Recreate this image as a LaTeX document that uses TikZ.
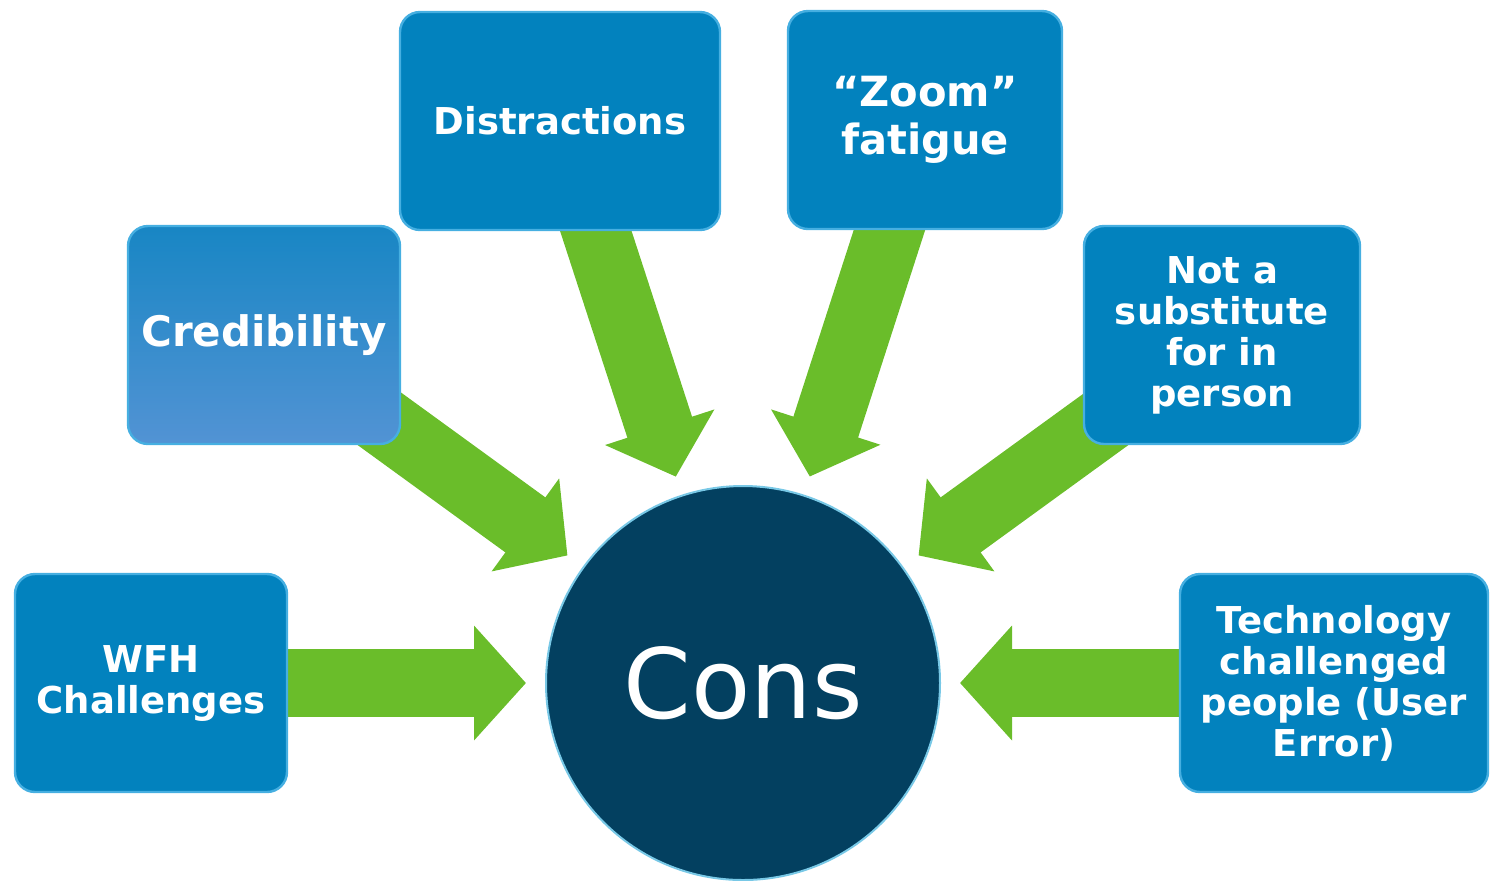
\documentclass[tikz,border=0pt]{standalone}
\usepackage{fontspec}
\setmainfont{DejaVu Sans}
\usetikzlibrary{arrows.meta,backgrounds}
\definecolor{boxblue}{RGB}{2,130,190}
\definecolor{boxedge}{RGB}{70,175,225}
\definecolor{credtop}{RGB}{24,134,196}
\definecolor{credbot}{RGB}{82,147,212}
\definecolor{consnavy}{RGB}{3,64,96}
\definecolor{consrim}{RGB}{120,200,230}
\definecolor{arrowgreen}{RGB}{106,189,42}
\begin{document}
\begin{tikzpicture}[x=0.5pt,y=-0.5pt,
	conbox/.style={draw=boxedge, line width=1.2pt, fill=boxblue, rounded corners=10pt,
		text=white, align=center, inner sep=2pt, minimum height=109pt,
		font=\bfseries\fontsize{18.5}{20.5}\selectfont},
	bigarrow/.style={draw=arrowgreen, line width=34pt,
		-{Triangle[width=56pt,length=26pt]}, shorten >=9.5pt}]
	\useasboundingbox (0,0) rectangle (1493,880);
	% centre
	\node[circle, fill=consnavy, draw=consrim, line width=1pt, minimum size=197pt,
		text=white, font=\fontsize{48.5}{58}\selectfont] (cons) at (743,683) {Cons};
	% boxes
	\node[conbox, minimum width=136pt] (wfh) at (151,683) {WFH\\Challenges};
	\node[conbox, minimum width=136pt, top color=credtop, bottom color=credbot,
		font=\bfseries\fontsize{21}{24}\selectfont] (cred) at (264,335) {Credibility};
	\node[conbox, minimum width=160pt,
		font=\bfseries\fontsize{18.5}{24}\selectfont] (distr) at (560,121) {Distractions};
	\node[conbox, minimum width=137pt,
		font=\bfseries\fontsize{20.8}{24}\selectfont] (zoom) at (925,120) {“Zoom”\\fatigue};
	\node[conbox, minimum width=138pt] (subst) at (1222,335) {Not a\\substitute\\for in\\person};
	\node[conbox, minimum width=154pt] (tech) at (1334,683) {Technology\\challenged\\people (User\\Error)};
	% arrows
	\begin{scope}[on background layer]
		\foreach \src in {wfh,cred,distr,zoom,subst,tech}
			\draw[bigarrow] (\src.center) -- (cons);
	\end{scope}
\end{tikzpicture}
\end{document}
